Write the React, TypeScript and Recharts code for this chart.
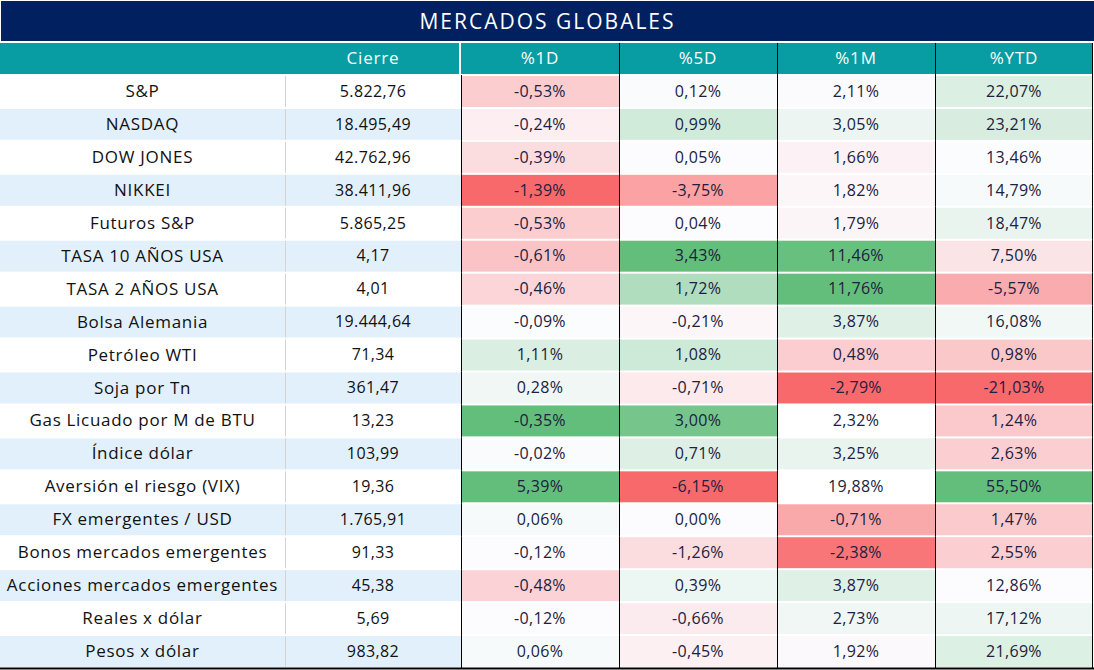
import { ScatterChart, Scatter, XAxis, YAxis } from "recharts"

const rows = [
  "S&P",
  "NASDAQ",
  "DOW JONES",
  "NIKKEI",
  "Futuros S&P",
  "TASA 10 AÑOS USA",
  "TASA 2 AÑOS USA",
  "Bolsa Alemania",
  "Petróleo WTI",
  "Soja por Tn",
  "Gas Licuado por M de BTU",
  "Índice dólar",
  "Aversión el riesgo (VIX)",
  "FX emergentes / USD",
  "Bonos mercados emergentes",
  "Acciones mercados emergentes",
  "Reales x dólar",
  "Pesos x dólar",
]

const cierre = [5822.76, 18495.49, 42762.96, 38411.96, 5865.25, 4.17, 4.01, 19444.64, 71.34, 361.47, 13.23, 103.99, 19.36, 1765.91, 91.33, 45.38, 5.69, 983.82]

const columns = ["%1D", "%5D", "%1M", "%YTD"]

const d1 = [-0.53, -0.24, -0.39, -1.39, -0.53, -0.61, -0.46, -0.09, 1.11, 0.28, -0.35, -0.02, 5.39, 0.06, -0.12, -0.48, -0.12, 0.06]
const d5 = [0.12, 0.99, 0.05, -3.75, 0.04, 3.43, 1.72, -0.21, 1.08, -0.71, 3.0, 0.71, -6.15, 0.0, -1.26, 0.39, -0.66, -0.45]
const m1 = [2.11, 3.05, 1.66, 1.82, 1.79, 11.46, 11.76, 3.87, 0.48, -2.79, 2.32, 3.25, 19.88, -0.71, -2.38, 3.87, 2.73, 1.92]
const ytd = [22.07, 23.21, 13.46, 14.79, 18.47, 7.5, -5.57, 16.08, 0.98, -21.03, 1.24, 2.63, 55.5, 1.47, 2.55, 12.86, 17.12, 21.69]

const series = [d1, d5, m1, ytd]

// cells the sheet leaves outside its colour scale
const UNSCALED = ["Aversión el riesgo (VIX)|%1M", "Gas Licuado por M de BTU|%1M"]
// fill in the sheet that does not follow the printed value
const FORCED_FILL: Record<string, string> = { "Gas Licuado por M de BTU|%1D": "#63BE7B" }

const W = 1094
const H = 670
const LABEL_W = 285
const LEFT_W = 461
const COL_W = 158
const ROW_H = 593 / 18
const FONT = "'Open Sans', sans-serif"
const NAVY = "#002060"
const TEAL = "#079DA3"
const ROW_BLUE = "#E2F0FB"
const INK = "#1B2140"

const RED = [248, 105, 107]
const MID = [252, 252, 255]
const GREEN = [99, 190, 123]

const mix = (a: number[], b: number[], t: number) =>
  `rgb(${a.map((v, i) => Math.round(v + (b[i] - v) * t)).join(",")})`

const median = (vals: number[]) => {
  const s = [...vals].sort((a, b) => a - b)
  const m = Math.floor(s.length / 2)
  return s.length % 2 ? s[m] : (s[m - 1] + s[m]) / 2
}

const pct = (v: number) => v.toFixed(2).replace(".", ",") + "%"
const num = (v: number) =>
  v.toLocaleString("de-DE", { minimumFractionDigits: 2, maximumFractionDigits: 2 })

const key = (r: number, c: number) => `${rows[r]}|${columns[c]}`

const scales = series.map((vals, c) => {
  const used = vals.filter((_, r) => !UNSCALED.includes(key(r, c)) && !FORCED_FILL[key(r, c)])
  return { min: Math.min(...used), mid: median(used), max: Math.max(...used) }
})

const fillFor = (r: number, c: number, v: number) => {
  const k = key(r, c)
  if (FORCED_FILL[k]) return FORCED_FILL[k]
  if (UNSCALED.includes(k)) return "#FFFFFF"
  const { min, mid, max } = scales[c]
  if (v <= mid) return mix(RED, MID, mid === min ? 1 : (v - min) / (mid - min))
  return mix(MID, GREEN, (v - mid) / (max - mid))
}

const cells = series.flatMap((vals, c) =>
  vals.map((v, r) => ({ x: c + 0.5, y: r + 0.5, value: v, fill: fillFor(r, c, v), last: c === columns.length - 1 }))
)

const HeatCell = (props: any) => {
  const { cx, cy, payload } = props
  const left = cx - COL_W / 2
  const top = cy - ROW_H / 2
  return (
    <g>
      <rect x={left} y={top + 1} width={COL_W} height={ROW_H - 2} fill={payload.fill} />
      <line x1={left + 0.5} x2={left + 0.5} y1={top} y2={top + ROW_H} stroke="#000" />
      {payload.last && (
        <line x1={left + COL_W - 0.5} x2={left + COL_W - 0.5} y1={top} y2={top + ROW_H} stroke="#000" />
      )}
      <text x={cx} y={cy + 1} textAnchor="middle" dominantBaseline="middle" fontFamily={FONT} fontSize={16} letterSpacing={0.3} fill={INK}>
        {pct(payload.value)}
      </text>
    </g>
  )
}

const RowTick = (props: any) => {
  const { y, payload } = props
  const i = payload.index
  const top = y - ROW_H / 2
  const bg = i % 2 ? ROW_BLUE : "#FFFFFF"
  return (
    <g>
      <rect x={0} y={top + 1} width={LEFT_W} height={ROW_H - 2} fill={bg} />
      <line x1={LABEL_W + 0.5} x2={LABEL_W + 0.5} y1={top + 1} y2={top + ROW_H - 1} stroke="#D4D4D4" />
      <text x={LABEL_W / 2} y={y + 1} textAnchor="middle" dominantBaseline="middle" fontFamily={FONT} fontSize={17} letterSpacing={0.7} fill="#111">
        {rows[i]}
      </text>
      <text x={(LABEL_W + LEFT_W) / 2} y={y + 1} textAnchor="middle" dominantBaseline="middle" fontFamily={FONT} fontSize={16} fontWeight={500} letterSpacing={0.4} fill="#111">
        {num(cierre[i])}
      </text>
      {i === rows.length - 1 && <rect x={0} y={top + ROW_H - 0.5} width={W} height={2} fill="#000" />}
    </g>
  )
}

const HeadTick = (props: any) => {
  const { x, payload } = props
  const i = payload.index
  const left = x - COL_W / 2
  return (
    <g>
      {i === 0 && (
        <g>
          <rect x={0} y={43} width={LEFT_W - 2} height={31} fill={TEAL} />
          <text x={(LABEL_W + LEFT_W) / 2} y={59} textAnchor="middle" dominantBaseline="middle" fontFamily={FONT} fontSize={17} letterSpacing={0.8} fill="#fff">
            Cierre
          </text>
        </g>
      )}
      <rect x={left} y={43} width={COL_W} height={31} fill={TEAL} />
      {i > 0 && <line x1={left + 0.5} x2={left + 0.5} y1={43} y2={75} stroke="#000" />}
      {i === columns.length - 1 && <line x1={left + COL_W - 0.5} x2={left + COL_W - 0.5} y1={43} y2={75} stroke="#000" />}
      <text x={x} y={59} textAnchor="middle" dominantBaseline="middle" fontFamily={FONT} fontSize={17} letterSpacing={0.8} fill="#fff">
        {columns[i]}
      </text>
    </g>
  )
}

export default function App() {
  return (
    <div style={{ position: "absolute", left: 0, top: 0, width: W, height: H, background: "#fff" }}>
      <ScatterChart width={W} height={H} margin={{ top: 43, right: 1, bottom: 2, left: 0 }}>
        <XAxis
          type="number"
          dataKey="x"
          orientation="top"
          domain={[0, columns.length]}
          ticks={columns.map((_, i) => i + 0.5)}
          interval={0}
          height={32}
          axisLine={false}
          tickLine={false}
          tick={<HeadTick />}
        />
        <YAxis
          type="number"
          dataKey="y"
          domain={[0, rows.length]}
          reversed
          ticks={rows.map((_, i) => i + 0.5)}
          interval={0}
          width={LEFT_W}
          axisLine={false}
          tickLine={false}
          tick={<RowTick />}
        />
        <Scatter data={cells} shape={<HeatCell />} isAnimationActive={false} />
      </ScatterChart>
      <div
        style={{
          position: "absolute",
          left: 1,
          top: 1,
          width: W - 1,
          height: 40,
          background: NAVY,
          color: "#fff",
          fontFamily: FONT,
          fontSize: 21,
          letterSpacing: 2,
          display: "flex",
          alignItems: "center",
          justifyContent: "center",
        }}
      >
        MERCADOS GLOBALES
      </div>
    </div>
  )
}
